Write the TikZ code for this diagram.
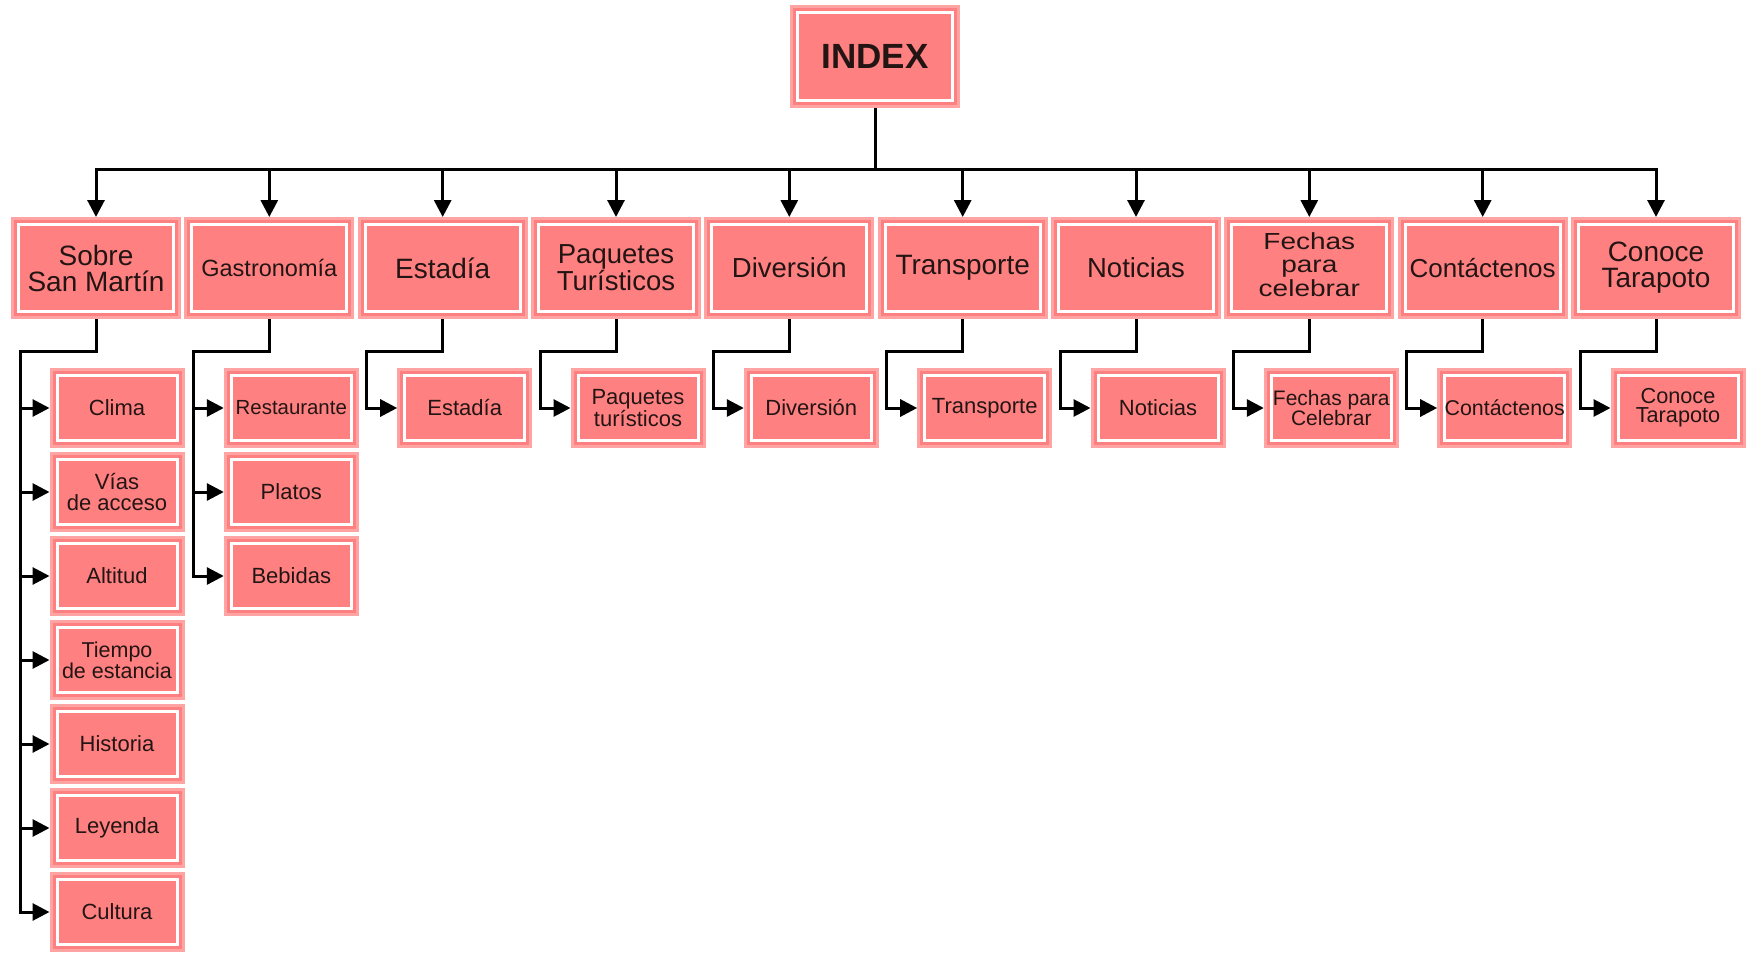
\documentclass[tikz,border=0pt]{standalone}
\usepackage{fontspec}
\setmainfont{Liberation Sans}
\usetikzlibrary{arrows.meta}
\definecolor{boxfill}{HTML}{FF8080}
\definecolor{boxedge}{HTML}{FFA3A3}
\definecolor{txt}{HTML}{241515}
\newcommand{\squashtext}[2]{\scalebox{1}[#1]{\begin{tabular}{@{}c@{}}#2\end{tabular}}}
\tikzset{
  card/.style={rectangle, fill=boxfill, draw=boxedge, line width=3pt, text=txt,
    align=center, inner sep=0pt,
    path picture={\draw[white,line width=3pt]
      ([shift={(6pt,-6pt)}]path picture bounding box.north west) rectangle
      ([shift={(-6pt,6pt)}]path picture bounding box.south east);}},
  topcard/.style={card, minimum width=167pt, minimum height=99pt,
    font=\fontsize{28}{26}\selectfont},
  subcard/.style={card, minimum width=132pt, minimum height=77pt,
    font=\fontsize{22}{20}\selectfont},
  conn/.style={line width=3pt, -{Triangle[length=17pt,width=17pt]}},
}
\begin{document}
\begin{tikzpicture}[x=1pt,y=-1pt]
\useasboundingbox (0,0) rectangle (1754,953);

% root
\node[card, minimum width=167pt, minimum height=100pt,
  font=\bfseries\fontsize{35}{35}\selectfont] (index) at (875,56.5) {INDEX};
\coordinate (bus) at (875,169);

% top level
\node[topcard] (sobre) at (96,268) {Sobre\\San Martín};
\node[topcard, font=\fontsize{23.5}{24}\selectfont] (gastro) at (269.3,268) {Gastronomía};
\node[topcard] (estadia) at (442.7,268) {Estadía};
\node[topcard, font=\fontsize{27.5}{27}\selectfont] (paquetes) at (616,268) {Paquetes\\Turísticos};
\node[topcard, font=\fontsize{27.5}{27}\selectfont] (diversion) at (789.3,268) {Diversión};
\node[topcard] (transporte) at (962.7,268) {Transporte};
\node[topcard, font=\fontsize{27.5}{27}\selectfont] (noticias) at (1136,268) {Noticias};
\node[topcard, font=\fontsize{28}{28}\selectfont] (fechas) at (1309.3,268) {\squashtext{0.83}{Fechas\\para\\celebrar}};
\node[topcard, font=\fontsize{26}{26}\selectfont] (contactenos) at (1482.7,268) {Contáctenos};
\node[topcard, font=\fontsize{28}{26}\selectfont] (conoce) at (1656,268) {Conoce\\Tarapoto};

% children of Sobre San Martín
\node[subcard] (clima) at (117,408) {Clima};
\node[subcard, font=\fontsize{22}{21}\selectfont] (vias) at (117,492) {Vías\\de acceso};
\node[subcard] (altitud) at (117,576) {Altitud};
\node[subcard, font=\fontsize{21.5}{20}\selectfont] (tiempo) at (117,660) {Tiempo\\de estancia};
\node[subcard] (historia) at (117,744) {Historia};
\node[subcard] (leyenda) at (117,828) {Leyenda};
\node[subcard] (cultura) at (117,912) {Cultura};

% children of Gastronomia
\node[subcard, font=\fontsize{20.4}{20}\selectfont] (restaurante) at (291.3,408) {Restaurante};
\node[subcard] (platos) at (291.3,492) {Platos};
\node[subcard] (bebidas) at (291.3,576) {Bebidas};

% single children
\node[subcard] (estadia2) at (464.7,408) {Estadía};
\node[subcard, font=\fontsize{22}{19.5}\selectfont] (paquetes2) at (638,408) {Paquetes\\turísticos};
\node[subcard] (diversion2) at (811.3,408) {Diversión};
\node[subcard] (transporte2) at (984.7,408) {Transporte};
\node[subcard] (noticias2) at (1158,408) {Noticias};
\node[subcard, font=\fontsize{21}{18.5}\selectfont] (fechas2) at (1331.3,408) {Fechas para\\Celebrar};
\node[subcard, font=\fontsize{21.4}{20}\selectfont] (contactenos2) at (1504.7,408) {Contáctenos};
\node[subcard, font=\fontsize{21.7}{19}\selectfont] (conoce2) at (1678,408) {Conoce\\Tarapoto};

% junction points
\coordinate (jsobre) at (20,351);
\coordinate (jgastro) at (193.3,351);
\coordinate (jestadia) at (366.7,351);
\coordinate (jpaquetes) at (540,351);
\coordinate (jdiversion) at (713.3,351);
\coordinate (jtransporte) at (886.7,351);
\coordinate (jnoticias) at (1060,351);
\coordinate (jfechas) at (1233.3,351);
\coordinate (jcontactenos) at (1406.7,351);
\coordinate (jconoce) at (1580,351);

% root to top level
\foreach \t in {sobre,gastro,estadia,paquetes,diversion,transporte,noticias,fechas,contactenos,conoce}
  \draw[conn] (index.south) -- (bus) -| (\t.north);

% Sobre San Martin children
\foreach \c in {clima,vias,altitud,tiempo,historia,leyenda,cultura}
  \draw[conn] (sobre.south) |- (jsobre) |- (\c.west);

% Gastronomia children
\foreach \c in {restaurante,platos,bebidas}
  \draw[conn] (gastro.south) |- (jgastro) |- (\c.west);

% single children
\foreach \p in {estadia,paquetes,diversion,transporte,noticias,fechas,contactenos,conoce}
  \draw[conn] (\p.south) |- (j\p) |- (\p2.west);
\end{tikzpicture}
\end{document}
